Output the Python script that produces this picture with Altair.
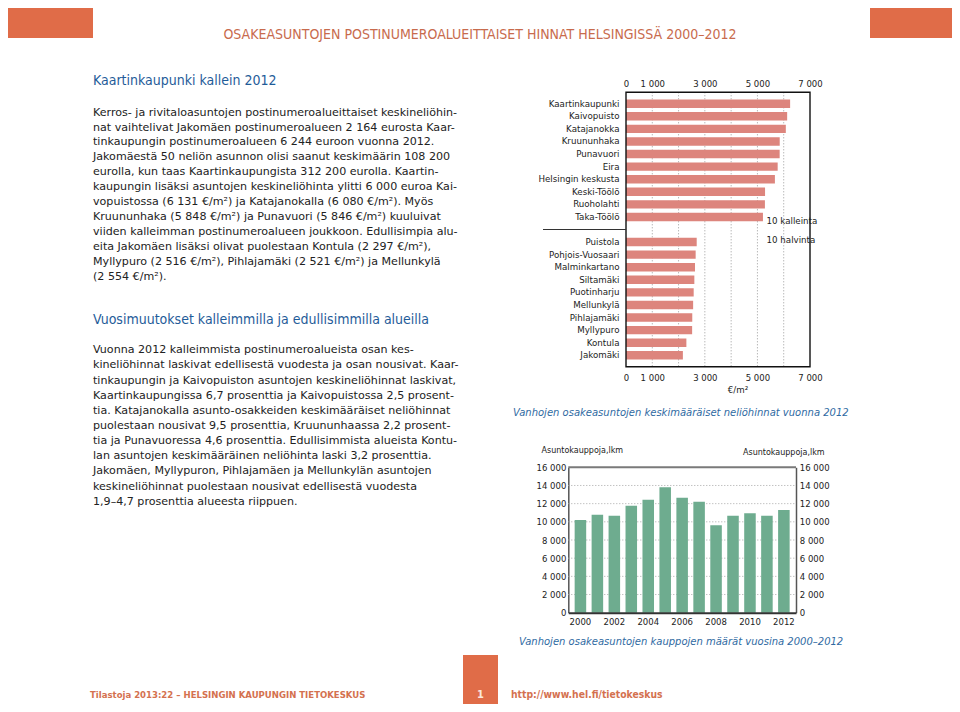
import altair as alt
import pandas as pd

# ---------------- data ----------------
expensive_areas = ["Kaartinkaupunki", "Kaivopuisto", "Katajanokka", "Kruununhaka", "Punavuori",
                   "Eira", "Helsingin keskusta", "Keski-Töölö", "Ruoholahti", "Taka-Töölö"]
expensive_prices = [6244, 6131, 6080, 5848, 5846, 5770, 5665, 5290, 5285, 5210]
cheap_areas = ["Puistola", "Pohjois-Vuosaari", "Malminkartano", "Siltamäki", "Puotinharju",
               "Mellunkylä", "Pihlajamäki", "Myllypuro", "Kontula", "Jakomäki"]
cheap_prices = [2690, 2650, 2625, 2600, 2575, 2554, 2521, 2516, 2297, 2164]
gap_slot = [" "]
price_domain = [0, 7000]
price_axis_values = [0, 1000, 3000, 5000, 7000]
price_grid_values = [1000, 2000, 3000, 4000, 5000, 6000]

sale_years = [2000, 2001, 2002, 2003, 2004, 2005, 2006, 2007, 2008, 2009, 2010, 2011, 2012]
sales_counts = [10200, 10790, 10680, 11780, 12440, 13800, 12660, 12220, 9620, 10680, 10940, 10680, 11300]
sales_domain = [0, 16000]
sales_axis_values = [0, 2000, 4000, 6000, 8000, 10000, 12000, 14000, 16000]
sales_grid_values = [2000, 4000, 6000, 8000, 10000, 12000, 14000]
sales_top_value = [16000]
year_axis_values = [2000, 2002, 2004, 2006, 2008, 2010, 2012]

page_title = "OSAKEASUNTOJEN POSTINUMEROALUEITTAISET HINNAT HELSINGISSÄ 2000–2012"
heading_1 = "Kaartinkaupunki kallein 2012"
paragraph_1 = [
    "Kerros- ja rivitaloasuntojen postinumeroalueittaiset keskineliöhin-",
    "nat vaihtelivat Jakomäen postinumeroalueen 2 164 eurosta Kaar-",
    "tinkaupungin postinumeroalueen 6 244 euroon vuonna 2012.",
    "Jakomäestä 50 neliön asunnon olisi saanut keskimäärin 108 200",
    "eurolla, kun taas Kaartinkaupungista 312 200 eurolla. Kaartin-",
    "kaupungin lisäksi asuntojen keskineliöhinta ylitti 6 000 euroa Kai-",
    "vopuistossa (6 131 €/m²) ja Katajanokalla (6 080 €/m²). Myös",
    "Kruununhaka (5 848 €/m²) ja Punavuori (5 846 €/m²) kuuluivat",
    "viiden kalleimman postinumeroalueen joukkoon. Edullisimpia alu-",
    "eita Jakomäen lisäksi olivat puolestaan Kontula (2 297 €/m²),",
    "Myllypuro (2 516 €/m²), Pihlajamäki (2 521 €/m²) ja Mellunkylä",
    "(2 554 €/m²).",
]
heading_2 = "Vuosimuutokset kalleimmilla ja edullisimmilla alueilla"
paragraph_2 = [
    "Vuonna 2012 kalleimmista postinumeroalueista osan kes-",
    "kineliöhinnat laskivat edellisestä vuodesta ja osan nousivat. Kaar-",
    "tinkaupungin ja Kaivopuiston asuntojen keskineliöhinnat laskivat,",
    "Kaartinkaupungissa 6,7 prosenttia ja Kaivopuistossa 2,5 prosent-",
    "tia. Katajanokalla asunto-osakkeiden keskimääräiset neliöhinnat",
    "puolestaan nousivat 9,5 prosenttia, Kruununhaassa 2,2 prosent-",
    "tia ja Punavuoressa 4,6 prosenttia. Edullisimmista alueista Kontu-",
    "lan asuntojen keskimääräinen neliöhinta laski 3,2 prosenttia.",
    "Jakomäen, Myllypuron, Pihlajamäen ja Mellunkylän asuntojen",
    "keskineliöhinnat puolestaan nousivat edellisestä vuodesta",
    "1,9–4,7 prosenttia alueesta riippuen.",
]
price_caption = "Vanhojen osakeasuntojen keskimääräiset neliöhinnat vuonna 2012"
sales_caption = "Vanhojen osakeasuntojen kauppojen määrät vuosina 2000–2012"
sales_axis_title = "Asuntokauppoja,lkm"
price_unit = "€/m²"
group_top_label = "10 kalleinta"
group_low_label = "10 halvinta"
footer_left = "Tilastoja 2013:22 – HELSINGIN KAUPUNGIN TIETOKESKUS"
footer_page = "1"
footer_right = "http://www.hel.fi/tietokeskus"

# ---------------- styles / layout ----------------
W, H = 944, 696
def P(v):  # page pixel -> plot pixel (page has 8px margin)
    return v - 8

BODY = "DejaVu Sans"
COND = "Liberation Sans Narrow, DejaVu Sans Condensed, Arial Narrow, sans-serif"
ORANGE = "#e06c48"
TITLE_C = "#c86b4d"
BLUE = "#1f5c99"
CAPTION_C = "#2f6aa2"
TEXT_C = "#222222"
PRICE_C = "#dd857d"
SALES_C = "#6eac8f"
NUM = "replace(format(datum.value, ','), ',', ' ')"
ONE = alt.Data(values=[{}])


def text_block(content, x, y, size, color, font, weight="normal", style="normal",
               align="left", line_height=None):
    props = dict(text=content, font=font, fontSize=size, color=color,
                 fontWeight=weight, fontStyle=style, align=align, baseline="middle")
    if line_height is not None:
        props["lineHeight"] = line_height
    return alt.Chart(ONE).mark_text(**props).encode(x=alt.value(P(x)), y=alt.value(P(y)))


def box(x1, x2, y1, y2, color):
    return alt.Chart(ONE).mark_rect(color=color).encode(
        x=alt.value(P(x1)), x2=alt.value(P(x2)), y=alt.value(P(y1)), y2=alt.value(P(y2)))


layers = []

# header / footer decorations
layers += [
    box(5, 93, 4, 38, ORANGE),
    box(870, 958, 4, 38, ORANGE),
    text_block(page_title, 480, 35, 14, TITLE_C, COND, align="center"),
    box(463, 498, 655, 712, ORANGE),
    text_block(footer_page, 480.5, 695, 11, "#fbe6dc", COND, weight="bold", align="center"),
    text_block(footer_left, 90, 695, 9.5, "#d4714f", COND, weight="bold"),
    text_block(footer_right, 511, 695, 10.3, "#d4714f", COND, weight="bold"),
]

# left column text
layers += [
    text_block(heading_1, 93, 80.5, 14, BLUE, COND),
    text_block(paragraph_1, 93, 112.7, 11.1, TEXT_C, BODY, line_height=14.9),
    text_block(heading_2, 93, 320, 14, BLUE, COND),
    text_block(paragraph_2, 93, 350.3, 11.1, TEXT_C, BODY, line_height=15.15),
]

# ---------------- price chart (horizontal bars) ----------------
HB_L, HB_R, HB_T, HB_B = 626, 810, 92.3, 366.7
area_order = expensive_areas + gap_slot + cheap_areas
price_df = pd.DataFrame({"alue": expensive_areas + cheap_areas,
                         "hinta": expensive_prices + cheap_prices})
x_price = alt.Scale(domain=price_domain, range=[P(HB_L), P(HB_R)], nice=False, zero=False)
y_area = alt.Scale(domain=area_order, range=[P(HB_T), P(HB_B)], paddingInner=0.33, paddingOuter=0.576)

num_axis = dict(labelExpr=NUM, title=None, grid=False, ticks=False, tickSize=0, domain=False,
                labelFont=BODY, labelFontSize=8.5, labelColor=TEXT_C, labelFlush=False,
                labelOverlap=False)

price_grid = alt.Chart(pd.DataFrame({"hinta": price_grid_values})).mark_rule(
    color="#9a9a9a", strokeDash=[1, 2], strokeWidth=1).encode(
    x=alt.X("hinta:Q", scale=x_price,
            axis=alt.Axis(orient="bottom", offset=P(HB_B) - H, values=price_axis_values,
                          labelPadding=6.3, **num_axis)),
    y=alt.value(P(HB_T)), y2=alt.value(P(HB_B)),
)
price_bars = alt.Chart(price_df).mark_bar(color=PRICE_C).encode(
    x=alt.X("hinta:Q", scale=x_price,
            axis=alt.Axis(orient="top", offset=-P(HB_T), values=price_axis_values,
                          labelPadding=3.5, **num_axis)),
    y=alt.Y("alue:N", scale=y_area, sort=area_order,
            axis=alt.Axis(orient="left", offset=-P(HB_L), title=None, ticks=False, tickSize=0,
                          domain=False, labelPadding=7, labelFont=BODY, labelFontSize=8.7,
                          labelColor=TEXT_C, labelLimit=0)),
)
price_frame = alt.Chart(ONE).mark_rect(fillOpacity=0, stroke="#111111", strokeWidth=1.4).encode(
    x=alt.value(P(HB_L)), x2=alt.value(P(HB_R)), y=alt.value(P(HB_T)), y2=alt.value(P(HB_B)))
separator = alt.Chart(pd.DataFrame({"alue": gap_slot})).mark_rule(color="#333333", strokeWidth=1).encode(
    y=alt.Y("alue:N", scale=y_area, axis=None),
    x=alt.value(P(543)), x2=alt.value(P(HB_L)),
)
layers += [
    price_grid, price_bars, price_frame, separator,
    text_block(group_top_label, 766.5, 221, 8.7, TEXT_C, BODY),
    text_block(group_low_label, 766.5, 240, 8.7, TEXT_C, BODY),
    text_block(price_unit, 738, 389.5, 8.7, TEXT_C, BODY, align="center"),
    text_block(price_caption, 513, 413.3, 10, CAPTION_C, BODY, style="italic"),
]

# ---------------- sales chart (vertical bars) ----------------
VB_L, VB_R, VB_T, VB_B = 568.3, 796, 467.3, 612.7
sales_df = pd.DataFrame({"vuosi": sale_years, "kaupat": sales_counts})
x_year = alt.Scale(domain=sale_years, range=[P(VB_L), P(VB_R)], paddingInner=0.32, paddingOuter=0.375)
y_sales = alt.Scale(domain=sales_domain, range=[P(VB_B), P(VB_T)], nice=False, zero=False)

sales_grid = alt.Chart(pd.DataFrame({"kaupat": sales_grid_values})).mark_rule(
    color="#a8a8a8", strokeDash=[1, 2], strokeWidth=1).encode(
    y=alt.Y("kaupat:Q", scale=y_sales,
            axis=alt.Axis(orient="right", offset=P(VB_R) - W, values=sales_axis_values,
                          labelPadding=3.3, **{**num_axis, "domain": True},
                          domainColor="#555555", domainWidth=1.5)),
    x=alt.value(P(VB_L)), x2=alt.value(P(VB_R)),
)
sales_top = alt.Chart(pd.DataFrame({"kaupat": sales_top_value})).mark_rule(
    color="#7a7a7a", strokeWidth=2).encode(
    y=alt.Y("kaupat:Q", scale=y_sales, axis=None),
    x=alt.value(P(VB_L)), x2=alt.value(P(VB_R)),
)
sales_bars = alt.Chart(sales_df).mark_bar(color=SALES_C).encode(
    x=alt.X("vuosi:O", scale=x_year,
            axis=alt.Axis(orient="bottom", offset=P(VB_B) - H, values=year_axis_values, title=None,
                          ticks=False, tickSize=0, domain=True, domainColor="#333333", domainWidth=2,
                          labelPadding=5, labelAngle=0, labelFont=BODY, labelFontSize=8.5,
                          labelColor=TEXT_C, zindex=1)),
    y=alt.Y("kaupat:Q", scale=y_sales,
            axis=alt.Axis(orient="left", offset=-P(VB_L), values=sales_axis_values,
                          labelPadding=2.5, **{**num_axis, "domain": True},
                          domainColor="#555555", domainWidth=1.5)),
)
layers += [
    sales_grid, sales_top, sales_bars,
    text_block(sales_axis_title, 541.5, 450.7, 8, TEXT_C, BODY),
    text_block(sales_axis_title, 743, 452.7, 8, TEXT_C, BODY),
    text_block(sales_caption, 519, 642, 10, CAPTION_C, BODY, style="italic"),
]

chart = (
    alt.layer(*layers)
    .resolve_scale(x="independent", y="independent")
    .resolve_axis(x="independent", y="independent")
    .properties(width=W, height=H, autosize=alt.AutoSizeParams(type="none"), padding=0,
                background="white")
    .configure_view(stroke=None)
)

chart.save("out.html", embed_options={"renderer": "svg", "actions": False})
